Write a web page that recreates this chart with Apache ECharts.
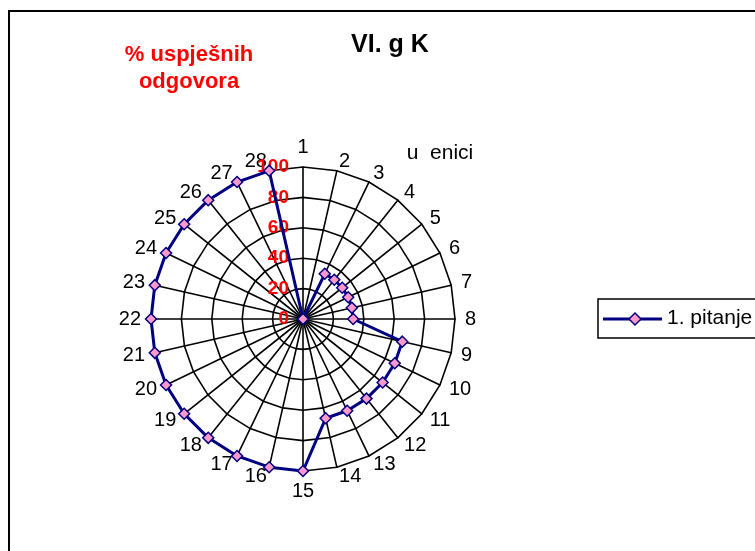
<!DOCTYPE html>
<html>
<head>
<meta charset="utf-8">
<script src="https://cdn.jsdelivr.net/npm/echarts@6/dist/echarts.min.js"></script>
<style>
html,body{margin:0;padding:0;background:#fff;}
#c{width:755px;height:551px;}
</style>
</head>
<body>
<div id="c"></div>
<script>
var categories = ['1','2','3','4','5','6','7','8','9','10','11','12','13','14','15','16','17','18','19','20','21','22','23','24','25','26','27','28'];
var values = [0,0,33,33,33,33,33,33,67,67,67,67,67,67,100,100,100,100,100,100,100,100,100,100,100,100,100,100];
var seriesName = '1. pitanje';
var radialMax = 100;
var radialSplits = 5;
var chartTitle = 'VI. g K';
var valueAxisTitle = '% uspješnih\nodgovora';
var categoryAxisTitle = 'u  enici';

var chart = echarts.init(document.getElementById('c'), null, {renderer: 'canvas'});
var FONT = 'Arial, "Liberation Sans", sans-serif';
var NAVY = '#000080', PINK = '#ff99cc';

// ECharts lays radar indicators out counter-clockwise; the reference runs clockwise,
// so walk the categories as 1, 28, 27, ..., 2.
var order = [0];
for (var k = categories.length - 1; k >= 1; k--) order.push(k);

var indicators = order.map(function (i, pos) {
  var ind = {name: categories[i], max: radialMax, min: 0};
  if (pos === 0) {
    ind.axisLabel = {
      show: true, color: '#ff0000', fontWeight: 'bold', fontSize: 19,
      fontFamily: FONT, margin: 14
    };
  }
  return ind;
});
var orderedValues = order.map(function (i) { return values[i]; });

// legend swatch (line + diamond marker), drawn next to the legend text
var lgX = 603, lgY = 319, lgW = 59, mk = 6;
chart.setOption({
  animation: false,
  backgroundColor: '#fff',
  graphic: [
    {type: 'rect', z: -10, shape: {x: 9, y: 11, width: 800, height: 600},
     style: {fill: 'none', stroke: '#000', lineWidth: 2}},
    {type: 'text', x: 390, y: 45, style: {text: chartTitle, fill: '#000', font: 'bold 25px ' + FONT, textAlign: 'center', textVerticalAlign: 'middle'}},
    {type: 'text', x: 189, y: 68, style: {text: valueAxisTitle, fill: '#ff0000', font: 'bold 22px ' + FONT, textAlign: 'center', textVerticalAlign: 'middle', lineHeight: 27}},
    {type: 'text', x: 440, y: 153, style: {text: categoryAxisTitle, fill: '#000', font: '21px ' + FONT, textAlign: 'center', textVerticalAlign: 'middle'}},
    {type: 'line', z: 100, shape: {x1: lgX, y1: lgY, x2: lgX + lgW, y2: lgY},
     style: {stroke: NAVY, lineWidth: 3}},
    {type: 'polygon', z: 101, shape: {points: [[lgX + 32, lgY - mk], [lgX + 32 + mk, lgY], [lgX + 32, lgY + mk], [lgX + 32 - mk, lgY]]},
     style: {fill: PINK, stroke: NAVY, lineWidth: 1.5}}
  ],
  legend: {
    show: true,
    left: 598, top: 299,
    orient: 'vertical',
    data: [seriesName],
    borderColor: '#000', borderWidth: 1.5, borderRadius: 0,
    padding: [9, 80, 9, 5],
    itemWidth: 59, itemHeight: 11, itemGap: 5,
    itemStyle: {color: 'rgba(0,0,0,0)', borderColor: 'rgba(0,0,0,0)', borderWidth: 0},
    textStyle: {color: '#000', fontSize: 21, fontFamily: FONT}
  },
  radar: {
    center: [303, 319],
    radius: 152,
    startAngle: 90,
    shape: 'polygon',
    splitNumber: radialSplits,
    indicator: indicators,
    axisName: {color: '#000', fontSize: 20, fontFamily: FONT},
    nameGap: 10,
    axisLine: {show: true, lineStyle: {color: '#000', width: 1.6}},
    splitLine: {show: true, lineStyle: {color: '#000', width: 1.6}},
    splitArea: {show: false},
    axisTick: {show: false},
    axisLabel: {show: false}
  },
  series: [{
    type: 'radar',
    name: seriesName,
    z: 5,
    symbol: 'diamond',
    symbolSize: 11,
    lineStyle: {color: NAVY, width: 3},
    itemStyle: {color: PINK, borderColor: NAVY, borderWidth: 1.5},
    data: [{value: orderedValues, name: seriesName}]
  }]
});
</script>
</body>
</html>
